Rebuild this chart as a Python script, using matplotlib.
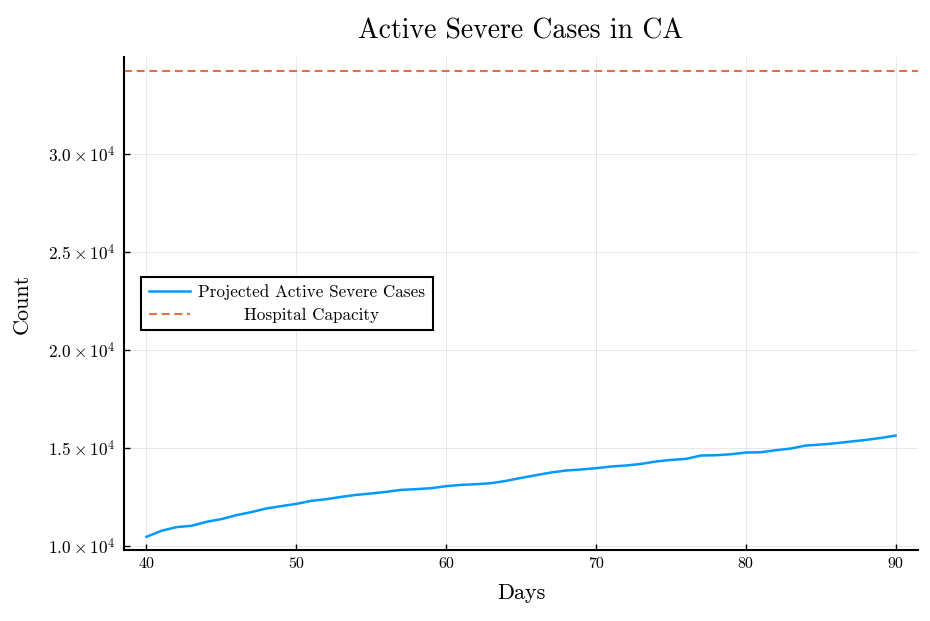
import matplotlib
matplotlib.use("Agg")
import matplotlib.pyplot as plt
from matplotlib.ticker import FuncFormatter
import numpy as np

plt.rcParams['font.family'] = ['cmr10', 'DejaVu Serif']
plt.rcParams['mathtext.fontset'] = 'cm'
plt.rcParams['axes.unicode_minus'] = False

# data
days = list(range(40, 91))
severe = [10473, 10779, 10967, 11033, 11237, 11374, 11578, 11731, 11919, 12036,
          12153, 12306, 12392, 12509, 12611, 12682, 12764, 12866, 12901, 12952,
          13054, 13120, 13156, 13207, 13324, 13476, 13614, 13751, 13853, 13904,
          13970, 14057, 14108, 14189, 14311, 14393, 14444, 14617, 14632, 14683,
          14769, 14785, 14886, 14973, 15126, 15177, 15243, 15329, 15411, 15512,
          15635]
capacity = 34228
xticks = [40, 50, 60, 70, 80, 90]
yticks = [10000, 15000, 20000, 25000, 30000]

fig = plt.figure(figsize=(9.3, 6.21), dpi=100)
ax = fig.add_axes([124/930, 1 - 550/621, (918-124)/930, (550-57)/621])

ax.plot(days, severe, color='#009AFA', lw=1.8, label='Projected Active Severe Cases')
ax.axhline(capacity, color='#E36F47', lw=1.5, ls=(0, (3.8, 2.3)), label='Hospital Capacity')

ax.set_xlim(38.5, 91.5)
ax.set_ylim(9800, 34940)
ax.set_xticks(xticks)
ax.set_yticks(yticks)

def sci(v, pos):
    m = v / 1e4
    return r'$%.1f \times 10^{4}$' % m
ax.yaxis.set_major_formatter(FuncFormatter(sci))

ax.grid(True, color='black', alpha=0.1, lw=0.6)
ax.set_axisbelow(True)
for s in ['top', 'right']:
    ax.spines[s].set_visible(False)
for s in ['left', 'bottom']:
    ax.spines[s].set_linewidth(1.5)
ax.tick_params(direction='in', length=4, width=1, labelsize=11.5, pad=5)
ax.tick_params(axis='y', labelsize=12.5, pad=6)

ax.set_title('Active Severe Cases in CA', fontsize=20, pad=13)
ax.set_xlabel('Days', fontsize=16, labelpad=9)
ax.set_ylabel('Count', fontsize=16, labelpad=12)

leg = ax.legend(loc='upper left', bbox_to_anchor=(0.0214, 0.5538), fontsize=12.3,
                fancybox=False, framealpha=1, edgecolor='black', borderpad=0.45,
                borderaxespad=0, handlelength=2.4, handletextpad=0.5,
                labelspacing=0.4)
leg.get_frame().set_linewidth(1.5)

# centre the shorter label under the longer one
fig.canvas.draw()
r = fig.canvas.get_renderer()
widths = [t.get_window_extent(r).width for t in leg.get_texts()]
w = max(widths)
for t, wi in zip(leg.get_texts(), widths):
    t.set_position(((w - wi) / 2, 0))

fig.savefig('out.png', dpi=100)
